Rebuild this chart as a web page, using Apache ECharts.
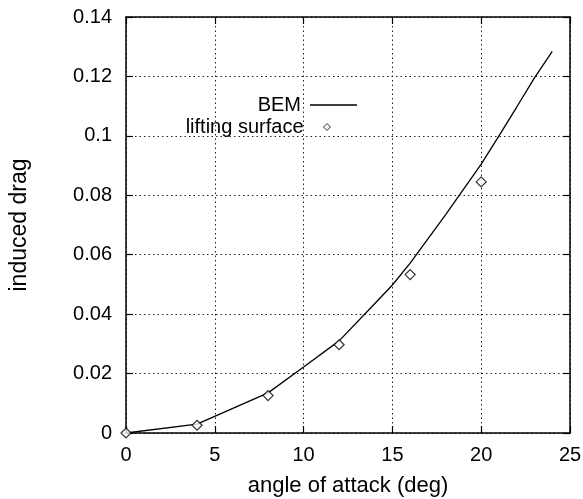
<!DOCTYPE html>
<html>
<head>
<meta charset="utf-8">
<script src="https://cdn.jsdelivr.net/npm/echarts@6/dist/echarts.min.js"></script>
<style>html,body{margin:0;padding:0;background:#fff}#c{width:583px;height:499px}</style>
</head>
<body>
<div id="c"></div>
<script>
var bemX = [0, 4, 8, 10, 12, 14, 15, 16, 18, 20, 21, 22, 23, 24];
var bemY = [0, 0.003, 0.0135, 0.0222, 0.031, 0.0435, 0.0498, 0.0572, 0.0735, 0.0905, 0.1, 0.1097, 0.1195, 0.1284];
var liftX = [0, 4, 8, 12, 16, 20];
var liftY = [0, 0.0026, 0.0126, 0.0297, 0.0533, 0.0845];
var xTicks = [0, 5, 10, 15, 20, 25];
var yTicks = [0, 0.02, 0.04, 0.06, 0.08, 0.1, 0.12, 0.14];

var FONT = '"Liberation Sans", Arial, Helvetica, sans-serif';
var chart = echarts.init(document.getElementById('c'));
function pairs(xs, ys) { return xs.map(function (x, i) { return [x, ys[i]]; }); }
var axisLine = { show: true, onZero: false, lineStyle: { color: '#000', width: 1.5 } };
var tick = { show: true, inside: true, length: 7, lineStyle: { color: '#000', width: 1.2 } };
var split = { show: true, lineStyle: { color: '#222', type: [1.5, 3], width: 1 } };
chart.setOption({
  animation: false,
  backgroundColor: '#fff',
  grid: { left: 126, right: 13, top: 17, bottom: 66, outerBoundsMode: 'none', containLabel: false },
  xAxis: [{
    type: 'value', min: xTicks[0], max: xTicks[xTicks.length - 1], interval: 5,
    name: 'angle of attack (deg)', nameLocation: 'middle', nameGap: 42,
    nameTextStyle: { fontFamily: FONT, fontSize: 22, color: '#000' },
    axisLine: axisLine, axisTick: tick, splitLine: split,
    axisLabel: { fontFamily: FONT, fontSize: 20, color: '#000', margin: 12 }
  }, {
    type: 'value', position: 'top', min: xTicks[0], max: xTicks[xTicks.length - 1], interval: 5,
    axisLine: axisLine, axisTick: tick, splitLine: { show: false }, axisLabel: { show: false }
  }],
  yAxis: [{
    type: 'value', min: yTicks[0], max: yTicks[yTicks.length - 1], interval: 0.02,
    name: 'induced drag', nameLocation: 'middle', nameGap: 95,
    nameTextStyle: { fontFamily: FONT, fontSize: 23, color: '#000' },
    axisLine: axisLine, axisTick: tick, splitLine: split,
    axisLabel: { fontFamily: FONT, fontSize: 20, color: '#000', margin: 14,
      formatter: function (v) { return String(Math.round(v * 100) / 100); } }
  }, {
    type: 'value', position: 'right', min: yTicks[0], max: yTicks[yTicks.length - 1], interval: 0.02,
    axisLine: axisLine, axisTick: tick, splitLine: { show: false }, axisLabel: { show: false }
  }],
  legend: [{
    data: [{ name: 'BEM', icon: 'rect', itemStyle: { color: '#000', borderWidth: 0 } }],
    orient: 'vertical', align: 'right', right: 226, top: 95, padding: 0,
    itemWidth: 47, itemHeight: 1.5,
    textStyle: { fontFamily: FONT, fontSize: 20, color: '#000', padding: [0, 4, 0, 0] }
  }, {
    data: [{ name: 'lifting surface', icon: 'diamond',
      itemStyle: { color: '#fff', borderColor: '#000', borderWidth: 1 } }],
    orient: 'vertical', align: 'right', right: 252, top: 117, padding: 0,
    itemWidth: 7, itemHeight: 7,
    textStyle: { fontFamily: FONT, fontSize: 20, color: '#000', padding: [0, 15, 0, 0] }
  }],
  series: [{
    name: 'BEM', type: 'line', data: pairs(bemX, bemY), showSymbol: false, symbol: 'none',
    lineStyle: { color: '#000', width: 1.3 }, itemStyle: { color: '#000' }, z: 3
  }, {
    name: 'lifting surface', type: 'scatter', data: pairs(liftX, liftY), symbol: 'diamond', symbolSize: 10,
    itemStyle: { color: '#fff', borderColor: '#000', borderWidth: 1.2 }, z: 4
  }]
});
</script>
</body>
</html>
